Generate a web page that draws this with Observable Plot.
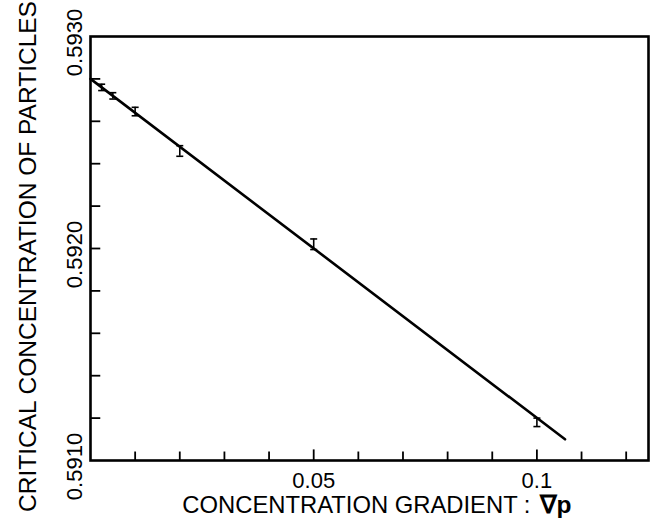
<!DOCTYPE html>
<html>
<head>
<meta charset="utf-8">
<script src="https://cdn.jsdelivr.net/npm/d3@7"></script>
<script src="https://cdn.jsdelivr.net/npm/@observablehq/plot@0.6"></script>
<style>
  html, body { margin: 0; padding: 0; background: #fff; }
  #chart { width: 653px; height: 523px; }
</style>
</head>
<body>
<div id="chart"></div>
<script>
// Measured points: concentration gradient vs critical concentration
const gradient = [0.0025, 0.005, 0.01, 0.02, 0.05, 0.1];
const critical = [0.59276, 0.59272, 0.592646, 0.59246, 0.59202, 0.59118];
const errorHalf = [0.000015, 0.000015, 0.00002, 0.000025, 0.000025, 0.00002];

// Fitted straight line endpoints
const fitX = [0, 0.1063];
const fitY = [0.59280, 0.59110];

// Axis ticks
const xTickLabels = [0.05, 0.1];
const xTickText = ["0.05", "0.1"];
const xMinorTicks = [0.01, 0.02, 0.03, 0.04, 0.05, 0.06, 0.07, 0.08, 0.09, 0.1, 0.11, 0.12];
const yTickLabels = [0.5910, 0.5920, 0.5930];
const yTickText = ["0.5910", "0.5920", "0.5930"];
const yMinorTicks = [0.5912, 0.5914, 0.5916, 0.5918, 0.5920, 0.5922, 0.5924, 0.5926, 0.5928];

const points = gradient.map((x, i) => ({x, y: critical[i], e: errorHalf[i]}));
const fit = fitX.map((x, i) => ({x, y: fitY[i]}));

const hline = {
  draw(ctx, size) {
    const r = Math.sqrt(size / Math.PI);
    ctx.moveTo(-r, 0);
    ctx.lineTo(r, 0);
  }
};

const font = "'Liberation Sans', Arial, Helvetica, sans-serif";

const chart = Plot.plot({
  width: 653,
  height: 523,
  marginLeft: 90,
  marginRight: 5,
  marginTop: 36,
  marginBottom: 63,
  style: {fontFamily: font, background: "#fff", color: "#000"},
  x: {domain: [0, 0.125], axis: null},
  y: {domain: [0.5910, 0.5930], axis: null},
  marks: [
    // inward ticks
    Plot.ruleY(yMinorTicks, {y: d => d, x1: 0, x2: 0.0023, stroke: "#000", strokeWidth: 1.8}),
    Plot.ruleX(xMinorTicks, {x: d => d, y1: 0.5910, y2: d => (d === 0.05 || d === 0.1) ? 0.59105 : 0.59104, stroke: "#000", strokeWidth: 1.8}),
    Plot.frame({stroke: "#000", strokeWidth: 2.6}),
    // fitted line
    Plot.line(fit, {x: "x", y: "y", stroke: "#000", strokeWidth: 2.6}),
    // error bars
    Plot.ruleX(points, {x: "x", y1: d => d.y - d.e, y2: d => d.y + d.e, stroke: "#000", strokeWidth: 1.6}),
    Plot.dot(points, {x: "x", y: d => d.y - d.e, symbol: hline, r: 3.5, stroke: "#000", strokeWidth: 1.6}),
    Plot.dot(points, {x: "x", y: d => d.y + d.e, symbol: hline, r: 3.5, stroke: "#000", strokeWidth: 1.6}),
    // tick labels
    Plot.text(xTickLabels, {x: d => d, y: 0.5910, text: (d, i) => xTickText[i], dy: 20, fontSize: 22, fill: "#000", lineAnchor: "middle"}),
    Plot.text(yTickLabels, {x: 0, y: d => d, text: (d, i) => yTickText[i], rotate: -90, dx: -16, dy: 6, fontSize: 22, fill: "#000", textAnchor: "middle", lineAnchor: "middle"}),
    // axis titles
    Plot.text(["CONCENTRATION GRADIENT :"], {frameAnchor: "bottom", dy: 45, dx: 161, fontSize: 23.8, fill: "#000", textAnchor: "end", lineAnchor: "middle"}),
    Plot.text(["\u2207p"], {frameAnchor: "bottom", dy: 45, dx: 170, fontSize: 24.5, fontWeight: "bold", fill: "#000", textAnchor: "start", lineAnchor: "middle"}),
    Plot.text(["CRITICAL CONCENTRATION OF PARTICLES"], {frameAnchor: "left", dx: -62, dy: 8, rotate: -90, fontSize: 24.5, fill: "#000", textAnchor: "middle", lineAnchor: "middle"})
  ]
});

document.getElementById("chart").appendChild(chart);
</script>
</body>
</html>
